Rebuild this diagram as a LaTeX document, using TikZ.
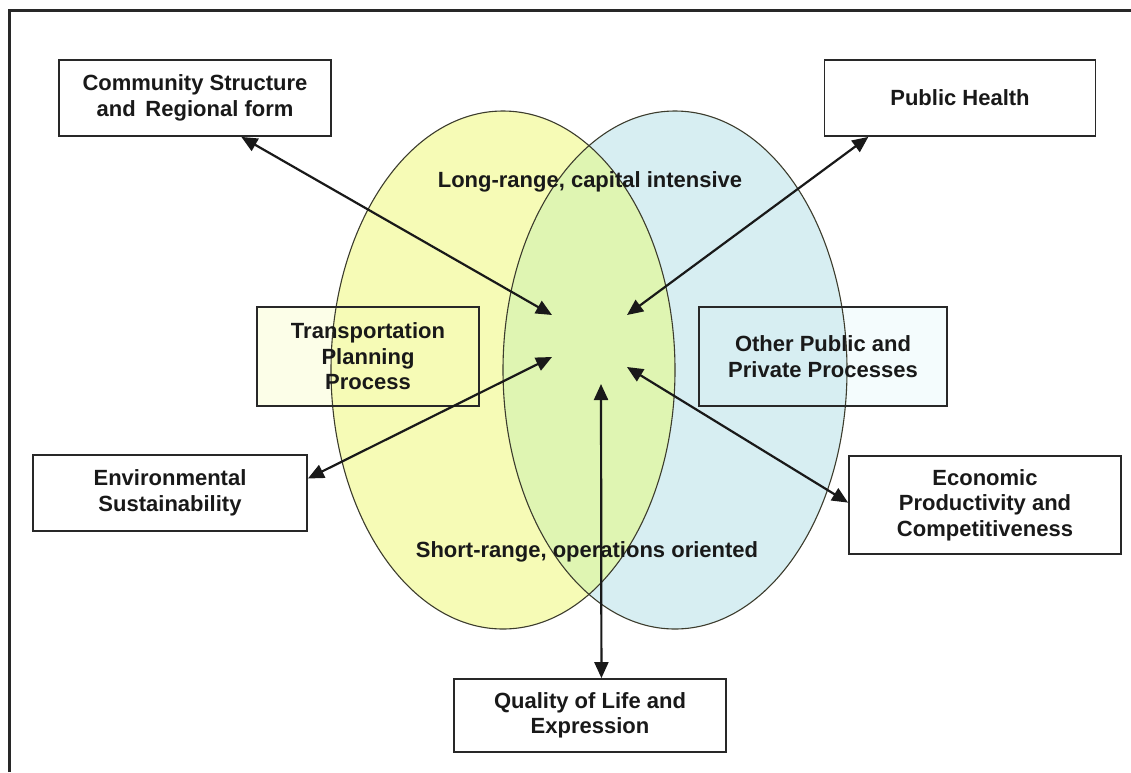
\documentclass[tikz,border=0pt]{standalone}
\usepackage{fontspec}
\setmainfont{Liberation Sans}
\usetikzlibrary{arrows.meta,calc}

\definecolor{ovalyellow}{RGB}{246,251,182}
\definecolor{ovalblue}{RGB}{215,238,242}
\definecolor{ovalgreen}{RGB}{223,245,178}
\definecolor{tintyellow}{RGB}{252,254,232}
\definecolor{tintblue}{RGB}{244,252,253}
\definecolor{inkgray}{RGB}{25,25,25}
\definecolor{edgegray}{RGB}{40,40,40}
\definecolor{ovaledge}{RGB}{60,60,45}

\tikzset{
  label font/.style={font=\fontsize{22}{25.5}\selectfont\bfseries, text=inkgray},
  topicbox/.style={draw=edgegray, line width=1.8pt, align=center, inner sep=0pt, label font},
  procbox/.style={topicbox},
  link/.style={line width=2.2pt, draw=black!90,
    {Triangle[length=16pt,width=14pt]}-{Triangle[length=16pt,width=14pt]}},
  ovalline/.style={draw=ovaledge, line width=1.1pt},
}

\begin{document}
\begin{tikzpicture}[x=1pt,y=-1pt]
\useasboundingbox (0,0) rectangle (1131,772);

% outer frame (open to the right and bottom)
\draw[line width=2.4pt, draw=edgegray] (9.5,772) -- (9.5,10.5) -- (1131,10.5);

% faint tinted fills of the two process boxes, under the ovals
\fill[tintyellow] (257,307) rectangle (479,406);
\fill[tintblue] (699,307) rectangle (947,406);

% the two overlapping ovals
\fill[ovalyellow] (503,370) ellipse [x radius=172, y radius=259];
\fill[ovalblue] (675,370) ellipse [x radius=172, y radius=259];
\begin{scope}
  \clip (503,370) ellipse [x radius=172, y radius=259];
  \fill[ovalgreen] (675,370) ellipse [x radius=172, y radius=259];
\end{scope}
\draw[ovalline] (503,370) ellipse [x radius=172, y radius=259];
\draw[ovalline] (675,370) ellipse [x radius=172, y radius=259];

% process boxes
\node[procbox, minimum width=222, minimum height=99] (tpp) at (368,356.5)
  {Transportation\\Planning\\Process};
\node[procbox, minimum width=248, minimum height=99] (opp) at (823,356.5)
  {Other Public and\\Private Processes};

% oval captions
\node[label font] (longrange) at (590,182) {Long-range, capital intensive};
\node[label font] (shortrange) at (587,552) {Short-range, operations oriented};

% outcome boxes
\node[topicbox, minimum width=272, minimum height=76] (comm) at (195,98)
  {Community Structure\\and\, Regional form};
\node[topicbox, minimum width=271, minimum height=76] (ph) at (960,98)
  {Public Health};
\node[topicbox, minimum width=274, minimum height=76] (env) at (170,493)
  {Environmental\\Sustainability};
\node[topicbox, minimum width=272, minimum height=98] (eco) at (985,505)
  {Economic\\Productivity and\\Competitiveness};
\node[topicbox, minimum width=272, minimum height=73] (qol) at (590,715.5)
  {Quality of Life and\\Expression};

% hub points in the overlap
\coordinate (hubcs) at (552,315);
\coordinate (hubph) at (627,315);
\coordinate (hubenv) at (552,357);
\coordinate (hubeco) at (627,367);
\coordinate (hubqol) at (601,384);

% connectors
\draw[link] (comm.-40) -- (hubcs);
\draw[link] (ph.203) -- (hubph);
\draw[link] (env.6) -- (hubenv);
\draw[link] (eco.179) -- (hubeco);
\draw[link] (qol.73) -- (hubqol);
\end{tikzpicture}
\end{document}
